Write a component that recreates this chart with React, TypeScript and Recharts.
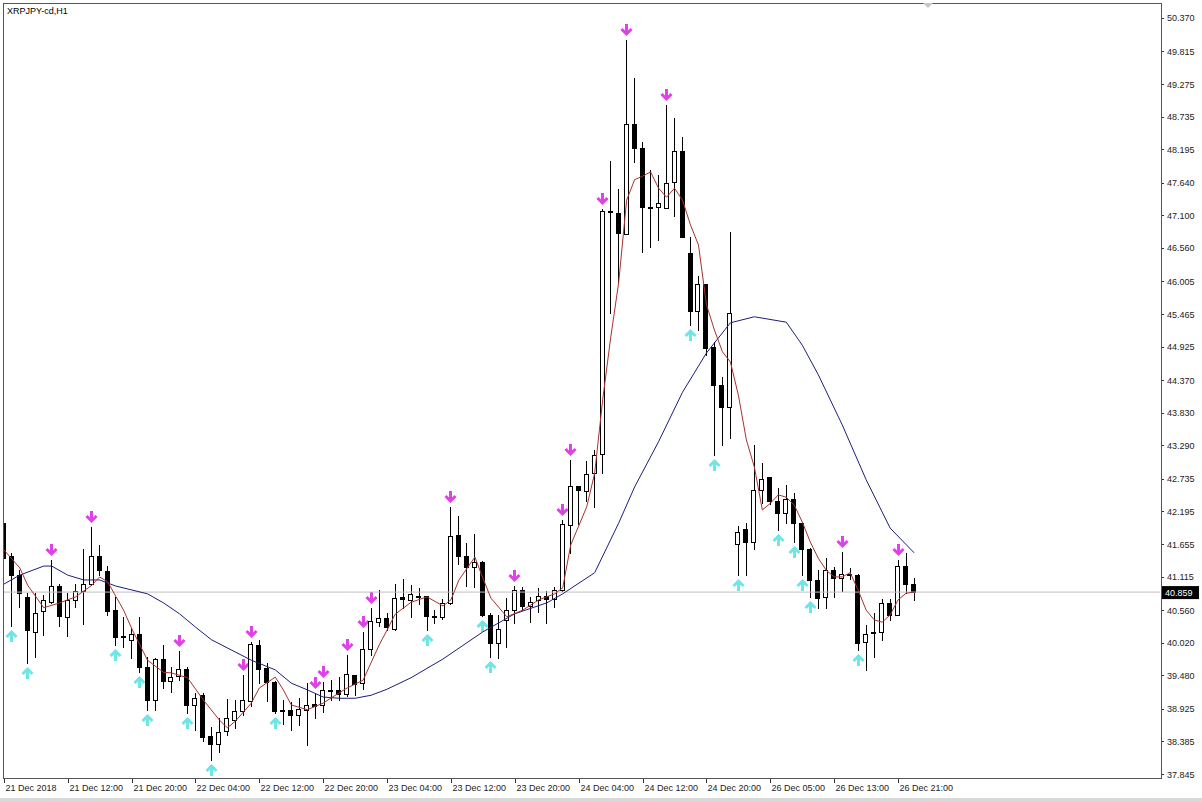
import React from "react";
import { ComposedChart, Bar, Line, XAxis, YAxis, ReferenceLine } from "recharts";

const symbolTitle = "XRPJPY-cd,H1";
const lastPrice = 40.859;

const timeLabels = [
  "21 Dec 2018", "21 Dec 12:00", "21 Dec 20:00", "22 Dec 04:00", "22 Dec 12:00",
  "22 Dec 20:00", "23 Dec 04:00", "23 Dec 12:00", "23 Dec 20:00", "24 Dec 04:00",
  "24 Dec 12:00", "24 Dec 20:00", "26 Dec 05:00", "26 Dec 13:00", "26 Dec 21:00",
];

const priceTicks = [
  50.37, 49.815, 49.275, 48.735, 48.195, 47.64, 47.1, 46.56, 46.005, 45.465, 44.925, 44.37,
  43.83, 43.29, 42.735, 42.195, 41.655, 41.115, 40.56, 40.02, 39.48, 38.925, 38.385, 37.845,
];

const barOpen = [
  42.0, 41.45, 41.14, 40.78, 40.2, 40.55, 40.7, 40.96, 40.45, 40.73,
  40.88, 41.0, 41.46, 41.2, 40.56, 40.13, 40.07, 40.17, 39.62, 39.07,
  39.75, 39.39, 39.47, 39.58, 38.99, 39.15, 38.47, 38.34, 38.55, 38.74,
  38.89, 39.06, 39.98, 39.6, 39.37, 38.91, 38.9, 38.82, 38.91, 39.01,
  38.99, 39.22, 39.24, 39.17, 39.49, 39.36, 39.91, 40.37, 40.43, 40.24,
  40.78, 40.73, 40.8, 40.79, 40.47, 40.45, 40.68, 41.8, 41.46, 41.27,
  41.36, 40.48, 40.01, 40.4, 40.57, 40.9, 40.63, 40.73, 40.79, 40.74,
  40.89, 41.97, 42.62, 42.54, 42.83, 43.15, 47.18, 47.14, 46.79, 48.61,
  48.21, 47.24, 47.24, 47.23, 47.66, 48.16, 46.47, 45.52, 45.96, 44.92,
  44.29, 43.92, 41.66, 41.9, 41.69, 42.55, 42.76, 42.36, 42.17, 42.4,
  42.01, 41.58, 41.06, 40.77, 41.23, 41.09, 41.16, 41.15, 40.04, 40.18,
  40.19, 40.67, 40.48, 41.29, 41.0,
];

const barHigh = [
  42.5, 41.5, 41.22, 40.84, 40.84, 40.81, 41.39, 41.0, 40.84, 40.99,
  41.58, 41.94, 41.64, 41.29, 40.78, 40.45, 40.26, 40.45, 39.79, 39.77,
  39.98, 39.62, 39.89, 39.62, 39.18, 39.18, 38.63, 38.77, 39.09, 39.07,
  39.49, 40.03, 40.07, 39.69, 39.38, 39.07, 39.04, 39.1, 39.36, 39.18,
  39.37, 39.4, 39.46, 39.82, 39.49, 40.19, 40.59, 40.89, 40.52, 40.99,
  41.08, 40.98, 40.92, 40.8, 40.56, 40.75, 42.27, 42.12, 41.67, 41.82,
  41.37, 40.51, 40.48, 40.76, 40.96, 40.94, 40.78, 40.92, 40.87, 40.95,
  42.06, 43.05, 42.62, 43.03, 43.21, 47.2, 48.0, 47.53, 50.0, 49.37,
  48.32, 47.85, 47.77, 48.93, 48.71, 48.4, 46.74, 46.1, 45.96, 45.01,
  44.43, 46.82, 41.95, 42.01, 43.3, 42.99, 42.77, 42.58, 42.63, 42.5,
  42.02, 41.59, 41.23, 41.42, 41.28, 41.53, 41.25, 41.16, 40.32, 40.51,
  40.75, 40.74, 41.39, 41.51, 41.09,
];

const barLow = [
  40.9, 40.29, 40.62, 39.68, 39.79, 40.15, 40.68, 40.29, 40.13, 40.61,
  40.33, 40.98, 41.14, 40.48, 39.98, 39.95, 39.76, 39.54, 38.9, 38.9,
  39.27, 39.21, 39.4, 38.85, 38.57, 38.4, 38.08, 38.21, 38.49, 38.61,
  38.82, 38.97, 39.35, 39.06, 38.86, 38.68, 38.57, 38.66, 38.33, 38.77,
  38.87, 39.07, 39.07, 39.13, 39.15, 39.26, 39.82, 40.3, 40.23, 40.23,
  40.59, 40.45, 40.66, 40.23, 40.34, 40.41, 40.66, 41.33, 40.96, 40.95,
  40.46, 39.79, 39.76, 39.95, 40.34, 40.56, 40.37, 40.53, 40.35, 40.62,
  40.87, 41.51, 41.99, 42.36, 42.27, 42.83, 45.48, 46.0, 46.79, 47.99,
  46.5, 46.58, 46.7, 47.23, 47.09, 46.74, 45.28, 45.2, 44.79, 43.13,
  43.3, 43.41, 41.14, 41.14, 41.58, 42.33, 42.32, 41.89, 42.0, 41.69,
  41.14, 40.78, 40.59, 40.59, 40.78, 40.87, 41.07, 39.9, 39.57, 39.79,
  40.06, 40.4, 40.48, 40.84, 40.73,
];

const barClose = [
  41.42, 41.14, 40.84, 40.23, 40.51, 40.72, 40.96, 40.46, 40.73, 40.88,
  40.99, 41.46, 41.22, 40.55, 40.11, 40.11, 40.17, 39.61, 39.07, 39.75,
  39.39, 39.45, 39.58, 38.99, 39.1, 38.46, 38.34, 38.54, 38.77, 38.89,
  39.07, 40.0, 39.58, 39.37, 38.89, 38.9, 38.82, 38.92, 38.99, 38.97,
  39.23, 39.24, 39.17, 39.5, 39.34, 39.92, 40.38, 40.43, 40.28, 40.76,
  40.75, 40.83, 40.79, 40.46, 40.45, 40.68, 41.79, 41.46, 41.27, 41.35,
  40.48, 40.01, 40.24, 40.57, 40.89, 40.63, 40.7, 40.8, 40.74, 40.9,
  41.99, 42.61, 42.55, 42.82, 43.13, 47.18, 47.16, 46.8, 48.61, 48.21,
  47.24, 47.23, 47.3, 47.64, 48.16, 46.74, 45.52, 45.96, 44.91, 44.29,
  43.92, 45.48, 41.86, 41.69, 42.55, 42.74, 42.36, 42.17, 42.4, 42.01,
  41.58, 41.06, 40.76, 41.23, 41.09, 41.16, 41.15, 40.02, 40.16, 40.19,
  40.67, 40.48, 41.29, 41.0, 40.859,
];

const fastMA: [number, number][] = [
  [0, 41.56], [2, 41.26], [3, 40.97], [5, 40.6], [7, 40.68], [9, 40.78], [11, 40.97], [12, 41.11],
  [13, 41.03], [15, 40.56], [16, 40.26], [18, 39.73], [20, 39.53], [21, 39.52], [23, 39.44],
  [25, 39.07], [27, 38.74], [28, 38.61], [29, 38.72], [31, 39.02], [32, 39.27], [34, 39.45],
  [35, 39.24], [36, 38.99], [38, 38.91], [40, 39.02], [42, 39.19], [43, 39.27], [45, 39.4],
  [47, 39.98], [48, 40.23], [49, 40.49], [51, 40.69], [53, 40.78], [55, 40.63], [56, 40.73],
  [57, 41.06], [59, 41.44], [60, 41.09], [61, 40.76], [63, 40.45], [65, 40.56], [67, 40.73],
  [69, 40.83], [70, 40.93], [71, 41.64], [73, 42.27], [74, 42.83], [75, 44.04], [76, 45.07],
  [77, 45.98], [78, 47.35], [79, 47.69], [80, 47.75], [81, 47.82], [82, 47.55], [83, 47.4],
  [84, 47.55], [85, 47.35], [86, 46.94], [87, 46.61], [88, 45.62], [89, 45.2], [90, 44.84],
  [91, 44.67], [92, 44.12], [93, 43.38], [94, 42.93], [95, 42.22], [96, 42.33], [97, 42.47],
  [98, 42.43], [99, 42.3], [100, 42.02], [101, 41.69], [102, 41.42], [103, 41.22], [104, 41.11],
  [105, 41.11], [106, 41.18], [107, 40.89], [108, 40.56], [109, 40.4], [110, 40.36], [111, 40.48],
  [112, 40.73], [113, 40.84], [114, 40.86],
];

const slowMA: [number, number][] = [
  [0, 40.99], [2, 41.14], [5, 41.29], [6, 41.29], [8, 41.14], [10, 41.06], [12, 41.06], [14, 40.96],
  [18, 40.83], [20, 40.68], [22, 40.5], [24, 40.28], [26, 40.07], [31, 39.73], [34, 39.57],
  [36, 39.35], [38, 39.24], [40, 39.12], [42, 39.1], [44, 39.1], [46, 39.15], [48, 39.25],
  [51, 39.44], [55, 39.75], [60, 40.2], [64, 40.5], [68, 40.68], [70, 40.83], [74, 41.18],
  [77, 42.0], [79, 42.6], [82, 43.35], [85, 44.17], [88, 44.82], [91, 45.32], [94, 45.42],
  [98, 45.33], [100, 44.95], [102, 44.46], [105, 43.63], [108, 42.72], [111, 41.92], [114, 41.51],
];

const downSignals = [6, 11, 22, 30, 31, 39, 40, 43, 45, 46, 56, 64, 70, 71, 75, 78, 83, 105, 112];
const upSignals = [1, 3, 14, 17, 18, 23, 26, 34, 53, 60, 61, 86, 89, 92, 97, 99, 100, 101, 107];

const fastMap = new Map(fastMA);
const slowMap = new Map(slowMA);

const data = barOpen.map((o, i) => ({
  i,
  o,
  h: barHigh[i],
  l: barLow[i],
  c: barClose[i],
  range: [barLow[i], barHigh[i]],
  fast: fastMap.has(i) ? fastMap.get(i) : null,
  slow: slowMap.has(i) ? slowMap.get(i) : null,
  dn: downSignals.includes(i),
  up: upSignals.includes(i),
}));

const FONT = "'Liberation Sans', Arial, sans-serif";
const X_DOMAIN: [number, number] = [-0.1, 144.8];
const Y_DOMAIN: [number, number] = [37.779, 50.618];

function DownArrow({ cx, cy }: { cx: number; cy: number }) {
  return (
    <g stroke="#e040e8" strokeWidth={3} fill="none">
      <line x1={cx} y1={cy - 6} x2={cx} y2={cy + 4} />
      <polyline points={`${cx - 5},${cy - 1} ${cx},${cy + 4} ${cx + 5},${cy - 1}`} />
    </g>
  );
}

function UpArrow({ cx, cy }: { cx: number; cy: number }) {
  return (
    <g stroke="#6ee6e8" strokeWidth={3} fill="none">
      <line x1={cx} y1={cy + 6} x2={cx} y2={cy - 4} />
      <polyline points={`${cx - 5},${cy + 1} ${cx},${cy - 4} ${cx + 5},${cy + 1}`} />
    </g>
  );
}

const Candle = (props: any) => {
  const { x, y, width, height, payload } = props;
  if (x == null || y == null || !payload) return null;
  const { o, h, l, c } = payload;
  const top = Math.min(y, y + height);
  const span = Math.abs(height);
  const toY = (v: number) => (h === l ? top : top + ((h - v) / (h - l)) * span);
  const cx = Math.round(x + width / 2) + 0.5;
  const yO = toY(o);
  const yC = toY(c);
  const bTop = Math.round(Math.min(yO, yC)) + 0.5;
  const bBot = Math.max(Math.round(Math.max(yO, yC)) + 0.5, bTop + 1);
  const bull = c >= o;
  const left = Math.round(x) + 0.5;
  return (
    <g>
      <line x1={cx} x2={cx} y1={Math.round(top)} y2={Math.round(top + span) + 1} stroke="#000" strokeWidth={1} />
      <rect x={left} y={bTop} width={width - 1} height={bBot - bTop} fill={bull ? "#fff" : "#000"} stroke="#000" strokeWidth={1} />
      {payload.dn && <DownArrow cx={cx} cy={Math.round(top) - 10} />}
      {payload.up && <UpArrow cx={cx} cy={Math.round(top + span) + 10} />}
    </g>
  );
};

const PriceTick = (props: any) => {
  const { y, payload } = props;
  return (
    <g>
      <line x1={1161} x2={1164} y1={Math.round(y) + 0.5} y2={Math.round(y) + 0.5} stroke="#333" />
      <text x={1167} y={y + 3.5} fontSize={9} fontFamily={FONT} fill="#222">
        {Number(payload.value).toFixed(3)}
      </text>
    </g>
  );
};

const TimeTick = (props: any) => {
  const { x, payload } = props;
  const idx = Math.round(payload.value / 8);
  const px = Math.round(x) + 0.5;
  return (
    <g>
      <line x1={px} x2={px} y1={778} y2={783} stroke="#333" />
      <text x={px + 1} y={791} fontSize={9} fontFamily={FONT} fill="#222">
        {timeLabels[idx]}
      </text>
    </g>
  );
};

const LastPriceLabel = (props: any) => {
  const { viewBox } = props;
  if (!viewBox) return null;
  const right = viewBox.x + viewBox.width;
  return (
    <g>
      <rect x={right + 1} y={viewBox.y - 6} width={38} height={13} fill="#000" />
      <text x={right + 5} y={viewBox.y + 3.5} fontSize={9} fontFamily={FONT} fill="#fff">
        {lastPrice.toFixed(3)}
      </text>
    </g>
  );
};

export default function App() {
  return (
    <div style={{ position: "absolute", left: 0, top: 0, width: 1202, height: 802, background: "#fff", overflow: "hidden" }}>
      <ComposedChart width={1202} height={802} data={data} margin={{ top: 3, right: 0, bottom: 0, left: 3 }}>
        <XAxis
          dataKey="i"
          type="number"
          domain={X_DOMAIN}
          allowDataOverflow
          ticks={timeLabels.map((_, k) => k * 8)}
          interval={0}
          height={24}
          axisLine={false}
          tickLine={false}
          tick={<TimeTick />}
        />
        <YAxis
          orientation="right"
          type="number"
          domain={Y_DOMAIN}
          allowDataOverflow
          ticks={priceTicks}
          interval={0}
          width={42}
          axisLine={false}
          tickLine={false}
          tick={<PriceTick />}
        />
        <ReferenceLine y={lastPrice} stroke="#c0c0c0" strokeWidth={1} label={<LastPriceLabel />} />
        <Bar dataKey="range" barSize={5} shape={<Candle />} isAnimationActive={false} />
        <Line dataKey="slow" type="linear" stroke="#1e1e7a" strokeWidth={1} dot={false} connectNulls isAnimationActive={false} />
        <Line dataKey="fast" type="linear" stroke="#a8322e" strokeWidth={1} dot={false} connectNulls isAnimationActive={false} />
      </ComposedChart>
      <div style={{ position: "absolute", left: 3, top: 3, width: 1159, height: 776, border: "1px solid #555", boxSizing: "border-box", pointerEvents: "none" }} />
      <div style={{ position: "absolute", left: 7, top: 6, fontFamily: FONT, fontSize: 9, color: "#000", lineHeight: "11px" }}>
        {symbolTitle}
      </div>
      <svg style={{ position: "absolute", left: 922, top: 3 }} width={12} height={8}>
        <polygon points="1,0 11,0 6,5" fill="#c8c8c8" />
      </svg>
      <div style={{ position: "absolute", left: 0, top: 798, width: 1202, height: 4, background: "#d8d8d8" }} />
    </div>
  );
}
